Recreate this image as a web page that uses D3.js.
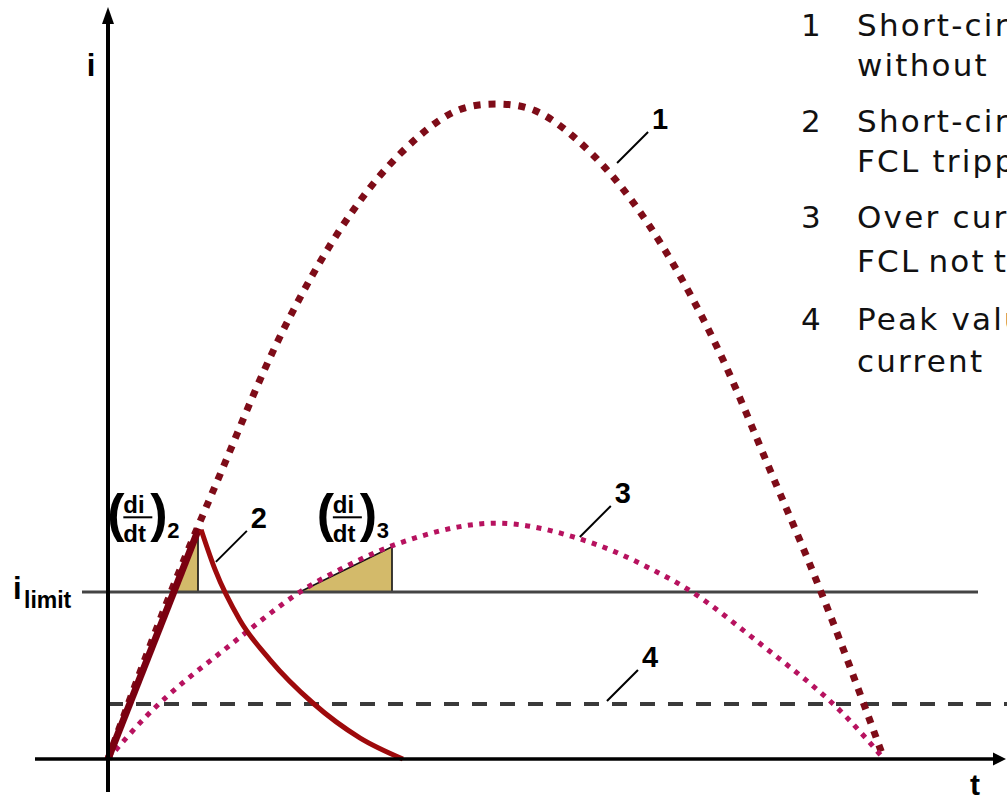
<!DOCTYPE html>
<html><head><meta charset="utf-8">
<script src="https://cdn.jsdelivr.net/npm/d3@7"></script>
<style>html,body{margin:0;padding:0;background:#fff;overflow:hidden}</style>
</head><body><svg id="c" width="1007" height="796"></svg>
<script>
// ---- data (t normalised to half-period, i normalised to peak of curve 1) ----
const tSamples = [0,0.05,0.1,0.15,0.2,0.25,0.3,0.35,0.4,0.45,0.5,0.55,0.6,0.65,0.7,0.75,0.8,0.85,0.9,0.95,1];
const curve1Values = [0,0.16,0.31,0.45,0.59,0.71,0.81,0.89,0.95,0.99,1.0,0.99,0.95,0.89,0.81,0.71,0.59,0.45,0.31,0.16,0];
const curve3Values = [0,0.066,0.12,0.167,0.214,0.257,0.29,0.318,0.339,0.354,0.36,0.354,0.339,0.318,0.29,0.257,0.214,0.167,0.12,0.066,0];
const curve2RiseT = [0,0.117];
const curve2RiseI = [0,0.352];
const curve2DecayT = [0.120,0.138,0.170,0.209,0.264,0.325,0.380];
const curve2DecayI = [0.350,0.289,0.212,0.151,0.0855,0.032,0];
const iLimit = 0.255;
const iRatedPeak = 0.084;
const triT0 = [0.086,0.247];
const triT1 = [0.116,0.366];
const triITop = [0.350,0.324];
const fracT = [0.003,0.273];
const fracI = [0.369,0.369];
const fracSub = ["2","3"];
const labelNums = ["1","2","3","4"];
const labelT = [0.656,0.139,0.608,0.643];
const labelI = [0.910,0.301,0.339,0.0885];
const legendNums = ["1","2","3","4"];
const legendLine1 = ["Short-circuit current","Short-circuit current with","Over current with","Peak value of rated"];
const legendLine2 = ["without FCL","FCL tripping","FCL not tripping","current"];

// ---- layout ----
const W = 1007, H = 796;
const svg = d3.select("#c");
const x = d3.scaleLinear().domain([0,1]).range([108,884]);
const y = d3.scaleLinear().domain([0,1]).range([759,104]);
const boldFont = "'Liberation Sans', Arial, sans-serif";
const legFont = "'DejaVu Sans', sans-serif";

const line = d3.line().x(d => x(d[0])).y(d => y(d[1]));

// triangles
const tris = triT0.map((t0,k) => [[t0,iLimit],[triT1[k],triITop[k]],[triT1[k],iLimit]]);
svg.selectAll("path.tri").data(tris).join("path")
  .attr("class","tri")
  .attr("d", d => line(d) + "Z")
  .attr("fill","#d3ba6a").attr("stroke","none");
svg.selectAll("path.triEdge").data(tris).join("path")
  .attr("class","triEdge")
  .attr("d", d => line([d[0],d[1],d[2]]))
  .attr("fill","none").attr("stroke","#111").attr("stroke-width",1.6);

// i_limit line
svg.append("line")
  .attr("x1", 82).attr("x2", 978)
  .attr("y1", y(iLimit)).attr("y2", y(iLimit))
  .attr("stroke","#444").attr("stroke-width",3);

// rated peak dashed line
svg.append("line")
  .attr("x1", x(0)).attr("x2", W)
  .attr("y1", y(iRatedPeak)).attr("y2", y(iRatedPeak))
  .attr("stroke","#3a3a3a").attr("stroke-width",4)
  .attr("stroke-dasharray","15 13");

// curve 1
const smooth = d3.line().x(d => x(d[0])).y(d => y(d[1])).curve(d3.curveNatural);
svg.append("path")
  .attr("d", smooth(tSamples.map((t,k) => [t, curve1Values[k]])))
  .attr("fill","none").attr("stroke","#7e0c18").attr("stroke-width",7)
  .attr("stroke-dasharray","7 8");

// curve 3
svg.append("path")
  .attr("d", smooth(tSamples.map((t,k) => [t, curve3Values[k]])))
  .attr("fill","none").attr("stroke","#b7125f").attr("stroke-width",5)
  .attr("stroke-dasharray","5 6.5");

// curve 2
svg.append("path")
  .attr("d", line(curve2RiseT.map((t,k) => [t, curve2RiseI[k]])))
  .attr("fill","none").attr("stroke","#7a0010").attr("stroke-width",7);
svg.append("path")
  .attr("d", d3.line().x(d => x(d[0])).y(d => y(d[1])).curve(d3.curveMonotoneX)(curve2DecayT.map((t,k) => [t, curve2DecayI[k]])))
  .attr("fill","none").attr("stroke","#9e0a0c").attr("stroke-width",5);

// axes
svg.append("line").attr("x1",35).attr("x2",997).attr("y1",y(0)).attr("y2",y(0))
  .attr("stroke","#000").attr("stroke-width",3.5);
svg.append("path").attr("d",`M${W-1},${y(0)} L${W-14},${y(0)-6.5} L${W-14},${y(0)+6.5} Z`).attr("fill","#000");
svg.append("line").attr("x1",x(0)).attr("x2",x(0)).attr("y1",20).attr("y2",792)
  .attr("stroke","#000").attr("stroke-width",4);
svg.append("path").attr("d",`M${x(0)},7 L${x(0)-6},24 L${x(0)+6},24 Z`).attr("fill","#000");

// axis labels
svg.append("text").attr("x",91).attr("y",76).attr("text-anchor","middle")
  .attr("font-family",boldFont).attr("font-weight","bold").attr("font-size",31).text("i");
svg.append("text").attr("x",975).attr("y",795).attr("text-anchor","middle")
  .attr("font-family",boldFont).attr("font-weight","bold").attr("font-size",30).text("t");

// i_limit label
const il = svg.append("text").attr("font-family",boldFont).attr("font-weight","bold");
il.append("tspan").attr("x",13).attr("y",y(iLimit)+7).attr("font-size",31).text("i");
il.append("tspan").attr("x",24).attr("y",y(iLimit)+16).attr("font-size",23).text("limit");

// fraction labels
fracT.forEach((t,k) => {
  const gx = x(t), gy = y(fracI[k]);
  const g = svg.append("g").attr("transform",`translate(${gx},${gy})`)
    .attr("font-family",boldFont);
  g.append("text").attr("x",-3).attr("y",14).attr("font-size",52).attr("font-weight","bold").text("(");
  g.append("text").attr("x",13).attr("y",-4).attr("font-size",24).attr("font-weight","bold").text("di");
  g.append("line").attr("x1",13).attr("x2",42).attr("y1",0).attr("y2",0).attr("stroke","#000").attr("stroke-width",2);
  g.append("text").attr("x",13).attr("y",25).attr("font-size",24).attr("font-weight","bold").text("dt");
  g.append("text").attr("x",40).attr("y",14).attr("font-size",52).attr("font-weight","bold").text(")");
  g.append("text").attr("x",57).attr("y",21).attr("font-size",22).attr("font-weight","bold").text(fracSub[k]);
});

// numbered curve labels with leaders
labelNums.forEach((n,k) => {
  const px = x(labelT[k]), py = y(labelI[k]);
  svg.append("line").attr("x1",px).attr("y1",py).attr("x2",px+31).attr("y2",py-31)
    .attr("stroke","#000").attr("stroke-width",2);
  svg.append("text").attr("x",px+43).attr("y",py-34).attr("text-anchor","middle")
    .attr("font-family",boldFont).attr("font-weight","bold").attr("font-size",29).text(n);
});

// legend
const legBase1 = [36,132,228,330];
const legBase2 = [76,172,272,372];
const legWordSpacing2 = [8,0,-4,0];
legendNums.forEach((n,k) => {
  const t1 = svg.append("text").attr("font-family",legFont).attr("font-size",31).attr("fill","#111");
  t1.append("tspan").attr("x",801).attr("y",legBase1[k]).text(n);
  t1.append("tspan").attr("x",857).attr("y",legBase1[k]).attr("letter-spacing",2.2).text(legendLine1[k]);
  svg.append("text").attr("font-family",legFont).attr("font-size",31).attr("fill","#111")
    .attr("x",857).attr("y",legBase2[k]).attr("letter-spacing",2.2).attr("word-spacing",legWordSpacing2[k]).text(legendLine2[k]);
});
</script>
</body></html>
